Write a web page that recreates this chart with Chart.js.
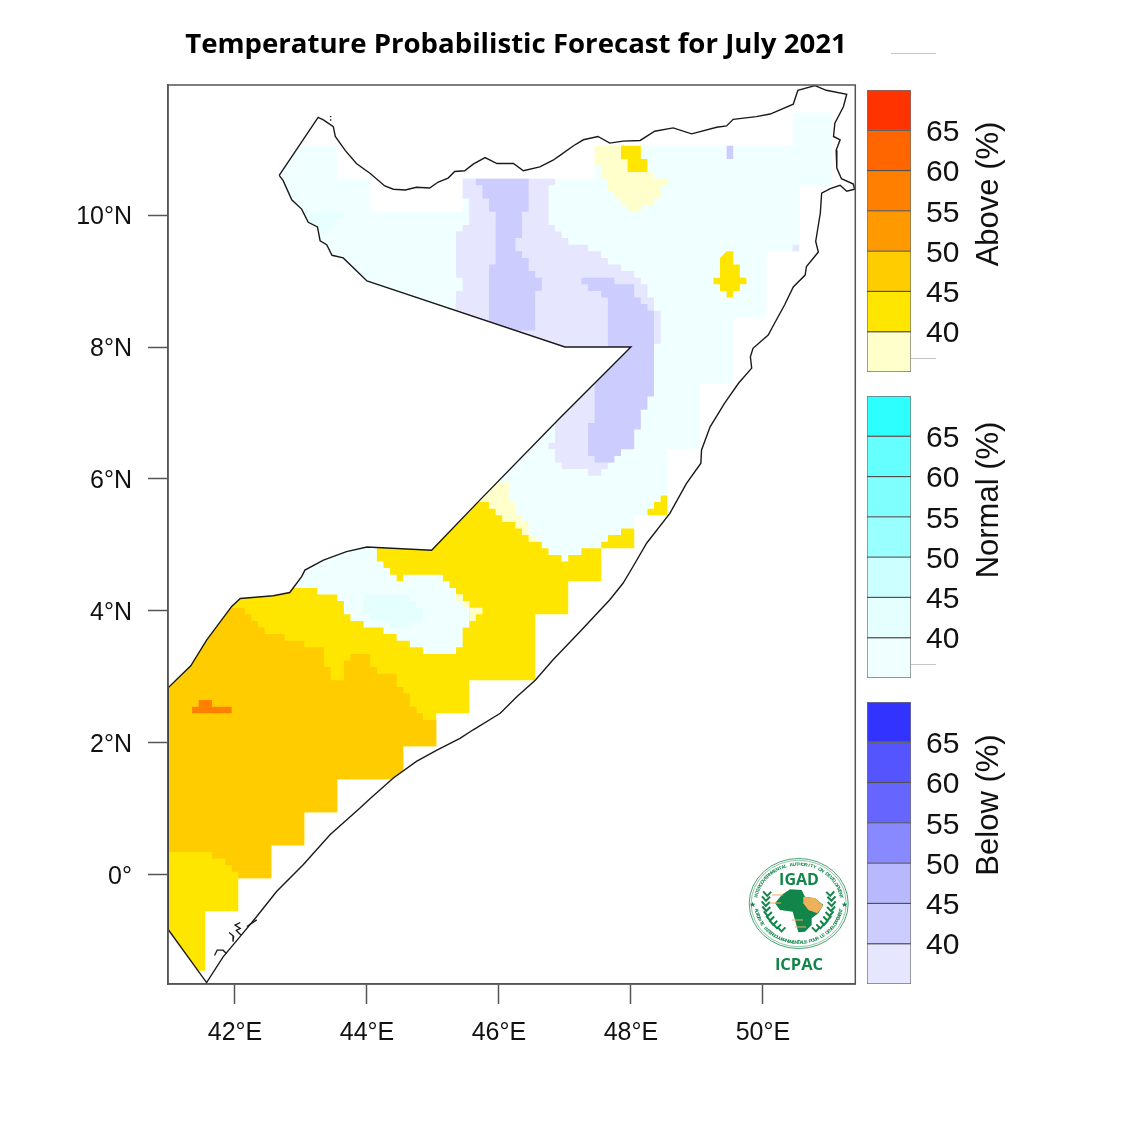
<!DOCTYPE html>
<html>
<head>
<meta charset="utf-8">
<title>Temperature Probabilistic Forecast for July 2021</title>
<script src="https://cdn.jsdelivr.net/npm/chart.js@4"></script>
<style>
  html, body { margin: 0; padding: 0; background: #fff; }
  #page { position: relative; width: 1125px; height: 1125px; overflow: hidden; }
  canvas { position: absolute; }
  #title { position: absolute; left: 116px; width: 800px; top: 23px; text-align: center;
           font: bold 27.6px "Open Sans", sans-serif; color: #000; white-space: nowrap; }
  .bar-title { position: absolute; left: 988px; font: 31px "Liberation Sans", sans-serif; color: #111;
               transform: translate(-50%, -50%) rotate(-90deg); white-space: nowrap; }
</style>
</head>
<body>
<div id="page">
  <canvas id="map" width="1125" height="1125" style="left:0;top:0"></canvas>
  <canvas id="bar-above" width="120" height="302" style="left:860px;top:80px"></canvas>
  <canvas id="bar-normal" width="120" height="302" style="left:860px;top:386px"></canvas>
  <canvas id="bar-below" width="120" height="302" style="left:860px;top:692px"></canvas>
  <div id="title">Temperature Probabilistic Forecast for July 2021</div>
  <div class="bar-title" style="top:194px">Above (%)</div>
  <div class="bar-title" style="top:500px">Normal (%)</div>
  <div class="bar-title" style="top:805px">Below (%)</div>
</div>

<script>
// ----- axes -----
const lonTicks = [42, 44, 46, 48, 50];
const lonLabels = ['42°E', '44°E', '46°E', '48°E', '50°E'];
const latTicks = [0, 2, 4, 6, 8, 10];
const latLabels = ['0°', '2°N', '4°N', '6°N', '8°N', '10°N'];

// ----- colour bars -----
const binEdges = [[35, 40], [40, 45], [45, 50], [50, 55], [55, 60], [60, 65], [65, 70]];
const aboveColors = ['#ffffcc', '#ffe600', '#ffcc00', '#ff9900', '#ff7f00', '#ff6600', '#ff3300'];
const normalColors = ['#f0ffff', '#e5ffff', '#ccffff', '#99ffff', '#80ffff', '#66ffff', '#2dffff'];
const belowColors = ['#e6e6ff', '#ccccff', '#b8b8ff', '#8888ff', '#6666ff', '#5555ff', '#3333ff'];

// ----- outline of the country [lon, lat] -----
const coast = [
  [42.67,10.60],[43.26,11.48],[43.34,11.44],[43.49,11.34],[43.52,11.19],[43.67,10.98],[43.84,10.78],[44.05,10.63],
  [44.27,10.44],[44.40,10.39],[44.58,10.38],[44.75,10.42],[44.95,10.41],[45.08,10.50],[45.23,10.56],[45.33,10.66],
  [45.48,10.67],[45.61,10.77],[45.79,10.87],[45.97,10.78],[46.22,10.78],[46.37,10.67],[46.62,10.73],[46.82,10.83],
  [46.92,10.90],[47.13,11.05],[47.28,11.14],[47.50,11.19],[47.68,11.09],[47.88,11.12],[48.14,11.13],[48.36,11.27],
  [48.64,11.32],[48.92,11.23],[49.30,11.33],[49.45,11.35],[49.55,11.45],[49.90,11.49],[50.11,11.53],[50.46,11.68],
  [50.53,11.89],[50.79,11.96],[50.96,11.89],[51.27,11.83],[51.22,11.64],[51.09,11.39],[51.07,11.19],[51.17,11.14],
  [51.11,10.98],[51.12,10.71],[51.19,10.55],[51.37,10.47],[51.39,10.39],[51.27,10.36],[51.17,10.45],[51.02,10.40],
  [50.89,10.33],[50.87,10.03],[50.80,9.60],[50.84,9.44],[50.66,9.22],[50.64,9.09],[50.46,8.91],[50.33,8.64],
  [50.16,8.33],[50.08,8.18],[49.85,7.98],[49.81,7.85],[49.83,7.68],[49.63,7.45],[49.42,7.15],[49.20,6.79],
  [49.07,6.44],[49.06,6.24],[48.84,5.93],[48.59,5.48],[48.24,5.03],[48.03,4.67],[47.88,4.42],[47.68,4.17],
  [47.23,3.69],[46.82,3.26],[46.55,2.95],[46.27,2.70],[46.02,2.45],[45.61,2.20],[45.41,2.07],[45.06,1.89],
  [44.75,1.72],[44.40,1.47],[44.05,1.16],[43.89,1.01],[43.44,0.61],[43.03,0.15],[42.63,-0.25],[42.33,-0.63],
  [42.08,-0.93],[41.82,-1.24],[41.57,-1.63],[40.99,-0.83],[40.99,2.84],[41.33,3.17],[41.57,3.56],[41.95,4.07],
  [42.08,4.19],[42.58,4.23],[42.83,4.28],[43.01,4.52],[43.06,4.62],[43.34,4.77],[43.69,4.90],[44.00,4.97],
  [44.98,4.92],[45.71,5.68],[46.92,6.92],[48.00,8.00],[47.00,8.00],[44.00,9.00],[43.64,9.35],[43.47,9.39],
  [43.39,9.55],[43.29,9.61],[43.25,9.82],[43.11,9.89],[43.01,10.09],[42.86,10.23],[42.73,10.52],[42.67,10.60]
];
// islets off Saylac and the Bajuni coast, null splits the pieces
const islets = [
  [43.44,11.49],[43.46,11.49],null,[43.44,11.44],[43.46,11.44],null,
  [41.69,-1.22],[41.73,-1.14],[41.82,-1.14],[41.87,-1.19],null,
  [41.91,-0.87],[41.98,-0.93],[41.97,-1.01],null,
  [42.08,-0.72],[42.00,-0.76],[42.08,-0.81],[42.02,-0.84],[42.09,-0.91],null,
  [42.18,-0.78],[42.33,-0.68]
];

// ----- shaded areas, corners of 0.1 degree cells [lon, lat], stepped -----
const normalMain = [
  [42.5,11.05],[43.55,10.55],[44.05,10.05],[45.45,10.55],[47.45,10.75],[47.55,11.05],[50.45,11.55],[51.05,10.45],
  [50.55,9.45],[50.05,8.45],[49.55,7.45],[49.05,6.45],[48.55,5.45],[48.05,5.05],[47.55,4.75],[45.9,6.0],[42.5,6.0]
];
const normalWest45 = [[43.0,10.05],[43.65,9.95],[43.55,9.85],[43.45,9.75],[43.0,9.75]];
const belowLight = [
  [45.45,10.55],[46.85,10.45],[46.75,9.85],[46.85,9.75],[46.95,9.65],[47.05,9.55],[47.35,9.45],[47.55,9.35],
  [47.65,9.25],[47.85,9.15],[48.05,9.05],[48.15,8.95],[48.25,8.75],[48.35,8.55],[48.45,8.05],[48.35,7.3],
  [48.0,6.55],[47.7,6.25],[47.65,6.15],[47.55,6.05],[47.35,6.15],[46.95,6.25],[46.85,6.45],[46.75,6.55],
  [46.85,8.0],[45.35,8.85],[45.45,9.05],[45.35,9.75],[45.45,9.85],[45.55,10.25],[45.45,10.25]
];
const belowCell40 = [[50.45,9.55],[50.55,9.45],[50.45,9.45]];
const belowWest = [
  [45.65,10.55],[46.45,10.05],[46.35,9.65],[46.25,9.45],[46.35,9.35],[46.45,9.15],[46.55,9.05],[46.65,8.85],
  [46.55,8.25],[45.85,8.25],[45.85,9.25],[45.95,10.05],[45.85,10.25],[45.75,10.45],[45.65,10.45]
];
const belowEast = [
  [47.25,9.05],[47.75,8.95],[48.05,8.75],[48.15,8.65],[48.25,8.55],[48.35,7.25],[48.25,7.05],[48.15,6.75],
  [48.05,6.45],[47.85,6.35],[47.75,6.25],[47.45,6.35],[47.35,6.85],[47.45,8.0],[47.65,8.75],[47.55,8.85],
  [47.35,8.95],[47.25,8.95]
];
const belowCell45 = [[49.45,11.05],[49.55,10.85],[49.45,10.85]];
const aboveNorthLight = [
  [47.45,11.05],[48.15,10.85],[48.25,10.65],[48.35,10.55],[48.55,10.45],[48.45,10.25],[48.35,10.15],[48.15,10.05],
  [47.95,10.15],[47.85,10.25],[47.75,10.35],[47.65,10.55],[47.55,10.75],[47.45,10.75]
];
const aboveNorth = [[47.85,11.05],[48.15,10.85],[48.25,10.65],[47.95,10.85],[47.85,10.85]];
const aboveDiamond = [
  [49.45,9.45],[49.55,9.25],[49.65,9.05],[49.75,8.95],[49.65,8.85],[49.55,8.75],[49.45,8.85],[49.35,8.95],
  [49.25,9.05],[49.35,9.35]
];
const aboveCoastBit = [[48.25,5.55],[48.35,5.65],[48.45,5.75],[48.55,5.45],[48.25,5.45]];
const aboveSouthLight = [
  [45.5,5.95],[46.15,5.65],[46.25,5.45],[46.35,5.35],[46.45,5.15],[46.55,5.05],[45.5,5.05]
];
const aboveSouth = [
  [45.6,5.65],[45.85,5.55],[45.95,5.45],[46.05,5.35],[46.25,5.25],[46.35,5.15],[46.45,5.05],[46.65,4.95],
  [46.75,4.85],[46.95,4.75],[47.05,4.85],[47.25,4.95],[47.55,5.05],[47.65,5.15],[47.85,5.25],[48.05,4.95],
  [47.55,4.45],[47.05,3.95],[46.55,2.95],[45.55,2.45],[45.05,1.95],[44.55,1.45],[43.55,0.95],[43.05,0.45],
  [42.55,-0.05],[42.05,-0.55],[41.55,-1.45],[40.9,-1.45],[40.9,5.65]
];
const normalPocket = [
  [42.8,5.2],[44.15,4.75],[44.25,4.65],[44.35,4.55],[44.45,4.45],[44.55,4.55],[45.15,4.45],[45.25,4.35],
  [45.35,4.25],[45.45,4.15],[45.55,3.75],[45.45,3.45],[45.35,3.35],[44.85,3.45],[44.65,3.55],[44.45,3.65],
  [44.25,3.75],[43.95,3.85],[43.75,3.95],[43.65,4.15],[43.55,4.25],[43.25,4.35],[42.8,4.35]
];
const normalPocket45 = [
  [43.95,4.25],[44.65,4.15],[44.75,4.05],[44.85,3.85],[44.65,3.75],[44.35,3.85],[44.05,3.95],[43.95,3.95]
];
const abovePocketLight = [
  [45.35,4.25],[45.45,4.15],[45.55,4.05],[45.75,3.95],[45.65,3.85],[45.55,3.85],[45.55,4.05],[45.45,4.05],
  [45.45,4.15],[45.35,4.15]
];
const aboveGold = [
  [40.9,4.05],[42.15,3.95],[42.25,3.85],[42.35,3.75],[42.45,3.65],[42.75,3.55],[43.05,3.45],[43.35,3.15],
  [43.45,2.95],[43.65,3.25],[43.75,3.35],[44.05,3.15],[44.15,3.05],[44.45,2.85],[44.55,2.75],[44.65,2.55],
  [44.75,2.45],[44.85,2.35],[45.05,1.95],[44.55,1.45],[43.55,0.95],[43.05,0.45],[42.55,-0.05],[42.05,0.05],
  [41.95,0.15],[41.85,0.25],[41.65,0.35],[40.9,0.35]
];
const aboveOrange = [[41.45,2.65],[41.65,2.55],[41.95,2.45],[41.35,2.45],[41.35,2.55],[41.45,2.55]];

// bottom to top
const layers = [
  { cells: normalMain, color: '#f0ffff' },
  { cells: normalWest45, color: '#e8ffff' },
  { cells: belowLight, color: '#e6e6ff' },
  { cells: belowCell40, color: '#e6e6ff' },
  { cells: belowWest, color: '#ccccff' },
  { cells: belowEast, color: '#ccccff' },
  { cells: belowCell45, color: '#ccccff' },
  { cells: aboveNorthLight, color: '#ffffcc' },
  { cells: aboveNorth, color: '#ffe600' },
  { cells: aboveDiamond, color: '#ffe600' },
  { cells: aboveCoastBit, color: '#ffe600' },
  { cells: aboveSouthLight, color: '#ffffcc' },
  { cells: aboveSouth, color: '#ffe600' },
  { cells: normalPocket, color: '#f0ffff' },
  { cells: normalPocket45, color: '#e5ffff' },
  { cells: abovePocketLight, color: '#ffffcc' },
  { cells: aboveGold, color: '#ffcc00' },
  { cells: aboveOrange, color: '#ff7f00' },
];

function toPoints(list) {
  return list.map(function(p) { return p ? { x: p[0], y: p[1] } : { x: null, y: null }; });
}

// the line datasets
const datasets = [
  { data: toPoints(coast), showLine: true, borderColor: '#1a1a1a', borderWidth: 1.4, pointRadius: 0, fill: false },
  { data: toPoints(islets), showLine: true, borderColor: '#1a1a1a', borderWidth: 1.3, pointRadius: 0, fill: false, spanGaps: false },
];
layers.slice().reverse().forEach(function(layer) {
  datasets.push({
    data: toPoints(layer.cells),
    showLine: true,
    stepped: true,
    fill: 'shape',
    backgroundColor: layer.color,
    borderColor: 'transparent',
    borderWidth: 0,
    pointRadius: 0,
  });
});

// keeps the shading inside the country, the two outlines (index 0, 1) are drawn after restore
const countryClip = {
  id: 'countryClip',
  beforeDatasetsDraw(chart) {
    const { ctx, scales } = chart;
    ctx.save();
    ctx.beginPath();
    coast.forEach(function(p, i) {
      const px = scales.x.getPixelForValue(p[0]);
      const py = scales.y.getPixelForValue(p[1]);
      if (i === 0) ctx.moveTo(px, py); else ctx.lineTo(px, py);
    });
    ctx.closePath();
    ctx.clip();
  },
  beforeDatasetDraw(chart, args) {
    if (args.index === 1) chart.ctx.restore();
  },
};

// box around the map and the tiny grey captions of the original
const mapFrame = {
  id: 'mapFrame',
  afterDatasetsDraw(chart) {
    const { ctx, chartArea: a } = chart;
    ctx.save();
    ctx.strokeStyle = '#555';
    ctx.lineWidth = 1.5;
    ctx.strokeRect(a.left, a.top, a.right - a.left, a.bottom - a.top);
    ctx.strokeStyle = '#c4c4c4';
    ctx.lineWidth = 1;
    [[891, 936, 53.5], [911, 936, 358.5], [911, 936, 664.5]].forEach(function(s) {
      ctx.beginPath();
      ctx.moveTo(s[0], s[2]);
      ctx.lineTo(s[1], s[2]);
      ctx.stroke();
    });
    ctx.restore();
  },
};

// ----- IGAD / ICPAC logo -----
function arcText(ctx, text, cx, cy, r, midAngle, step, bottom) {
  const start = midAngle - step * (text.length - 1) / 2;
  for (let i = 0; i < text.length; i++) {
    const a = bottom ? midAngle + step * (text.length - 1) / 2 - step * i : start + step * i;
    ctx.save();
    ctx.translate(cx + r * Math.cos(a), cy + r * Math.sin(a));
    ctx.rotate(bottom ? a - Math.PI / 2 : a + Math.PI / 2);
    ctx.fillText(text[i], 0, 0);
    ctx.restore();
  }
}

function fillShape(ctx, pts, color) {
  ctx.fillStyle = color;
  ctx.beginPath();
  pts.forEach(function(p, i) {
    const px = 740 + p[0] / 3, py = 845 + p[1] / 3;
    if (i === 0) ctx.moveTo(px, py); else ctx.lineTo(px, py);
  });
  ctx.closePath();
  ctx.fill();
}

const logo = {
  id: 'logo',
  afterDraw(chart) {
    const ctx = chart.ctx;
    const green = '#12864a';
    const cx = 798.7, cy = 903.5;
    ctx.save();
    ctx.strokeStyle = green;
    ctx.fillStyle = green;
    ctx.textAlign = 'center';
    ctx.textBaseline = 'middle';

    // ring and lettering, squeezed a little like the original
    ctx.save();
    ctx.translate(cx, cy);
    ctx.scale(1, 0.91);
    ctx.lineWidth = 0.8;
    ctx.beginPath(); ctx.arc(0, 0, 49.5, 0, Math.PI * 2); ctx.stroke();
    ctx.lineWidth = 0.5;
    ctx.beginPath(); ctx.arc(0, 0, 47.5, 0, Math.PI * 2); ctx.stroke();
    ctx.font = 'bold 5px "Liberation Sans", sans-serif';
    arcText(ctx, 'INTERGOVERNMENTAL AUTHORITY ON DEVELOPMENT', 0, 0, 43, -Math.PI / 2, 0.0685, false);
    arcText(ctx, 'AUTORITE INTERGOUVERNEMENTALE POUR LE DEVELOPPEMENT', 0, 0, 43, Math.PI / 2, 0.056, true);
    ctx.font = '8px "DejaVu Sans", sans-serif';
    ctx.fillText('★', -46, 2);
    ctx.fillText('★', 46, 2);
    ctx.restore();

    ctx.font = 'bold 16px "Open Sans", sans-serif';
    ctx.fillText('IGAD', 799, 880);
    ctx.font = 'bold 16.5px "Open Sans", sans-serif';
    ctx.fillText('ICPAC', 799, 965);

    // laurels
    ctx.lineWidth = 2;
    [-1, 1].forEach(function(side) {
      for (let i = 0; i < 9; i++) {
        const t = i * 0.165 - 0.3;
        const ex = cx + side * 33 * Math.cos(t);
        const ey = cy + 31 * Math.sin(t);
        ctx.beginPath();
        ctx.moveTo(ex - side * 4, ey - 2.5);
        ctx.lineTo(ex, ey + 1.5);
        ctx.lineTo(ex + side * 4, ey - 3);
        ctx.stroke();
      }
    });

    // Africa with the Horn in orange
    fillShape(ctx, [[125,150],[150,133],[185,135],[195,155],[225,160],[250,180],[235,205],[215,220],[215,240],
      [195,260],[175,262],[165,225],[158,200],[120,195],[105,175]], green);
    fillShape(ctx, [[190,155],[225,160],[250,182],[232,205],[205,195],[190,175]], '#eeb058');
    ctx.lineWidth = 1;
    ctx.strokeStyle = '#eeb058';
    [[772, 783, 895], [770, 781, 903], [792, 803, 920], [795, 806, 927]].forEach(function(s) {
      ctx.beginPath();
      ctx.moveTo(s[0], s[2]);
      ctx.lineTo(s[1], s[2]);
      ctx.stroke();
    });
    ctx.restore();
  },
};

// y labels sit a little lower than Chart.js centres them: an empty first line pushes them down
const fontFamily = '"Liberation Sans", sans-serif';

// ----- map -----
new Chart(document.getElementById('map'), {
  type: 'scatter',
  data: { datasets: datasets },
  plugins: [countryClip, mapFrame, logo],
  options: {
    responsive: false,
    animation: false,
    devicePixelRatio: 1,
    layout: { padding: { top: 85, right: 269.7, bottom: 0, left: 0 } },
    plugins: { legend: { display: false }, tooltip: { enabled: false } },
    scales: {
      x: {
        type: 'linear',
        min: 40.985,
        max: 51.4,
        afterBuildTicks: function(scale) { scale.ticks = lonTicks.map(function(v) { return { value: v }; }); },
        afterFit: function(scale) { scale.height = 141; },
        grid: { drawOnChartArea: false, tickLength: 20, tickColor: '#555', tickWidth: 1.5 },
        border: { color: '#555', width: 1.5 },
        ticks: {
          color: '#111',
          padding: 14,
          maxRotation: 0,
          autoSkip: false,
          font: { family: fontFamily, size: 25 },
          callback: function(v) { return lonLabels[lonTicks.indexOf(v)]; },
        },
      },
      y: {
        type: 'linear',
        min: -1.652,
        max: 11.97,
        afterBuildTicks: function(scale) { scale.ticks = latTicks.map(function(v) { return { value: v }; }); },
        afterFit: function(scale) { scale.width = 168; },
        grid: { drawOnChartArea: false, tickLength: 20, tickColor: '#555', tickWidth: 1.5 },
        border: { color: '#555', width: 1.5 },
        ticks: {
          color: '#111',
          padding: 16,
          autoSkip: false,
          font: { family: fontFamily, size: 25, lineHeight: '4px' },
          callback: function(v) { return ['', latLabels[latTicks.indexOf(v)]]; },
        },
      },
    },
  },
});

// ----- colour bars -----
function renderColorBar(canvasId, colors) {
  new Chart(document.getElementById(canvasId), {
    type: 'bar',
    data: {
      labels: [''],
      datasets: binEdges.map(function(bin, i) {
        return {
          data: [bin],
          backgroundColor: colors[i],
          borderColor: 'rgba(0,0,0,0.55)',
          borderWidth: 1,
          borderSkipped: false,
          grouped: false,
          barPercentage: 1,
          categoryPercentage: 1,
        };
      }),
    },
    options: {
      responsive: false,
      animation: false,
      devicePixelRatio: 1,
      layout: { padding: { top: 10, right: 0, bottom: 10, left: 7 } },
      plugins: { legend: { display: false }, tooltip: { enabled: false } },
      scales: {
        x: { display: false },
        y: {
          position: 'right',
          min: 35,
          max: 70,
          afterFit: function(scale) {
            scale.width = 69;
            scale.paddingTop = 0;
            scale.paddingBottom = 0;
          },
          grid: { display: false, drawTicks: false },
          border: { display: false },
          ticks: {
            stepSize: 5,
            padding: 15,
            autoSkip: false,
            color: '#111',
            font: { family: fontFamily, size: 30, lineHeight: '5px' },
            callback: function(v) { return (v === 35 || v === 70) ? '' : ['', String(v)]; },
          },
        },
      },
    },
  });
}

renderColorBar('bar-above', aboveColors);
renderColorBar('bar-normal', normalColors);
renderColorBar('bar-below', belowColors);
</script>
</body>
</html>
